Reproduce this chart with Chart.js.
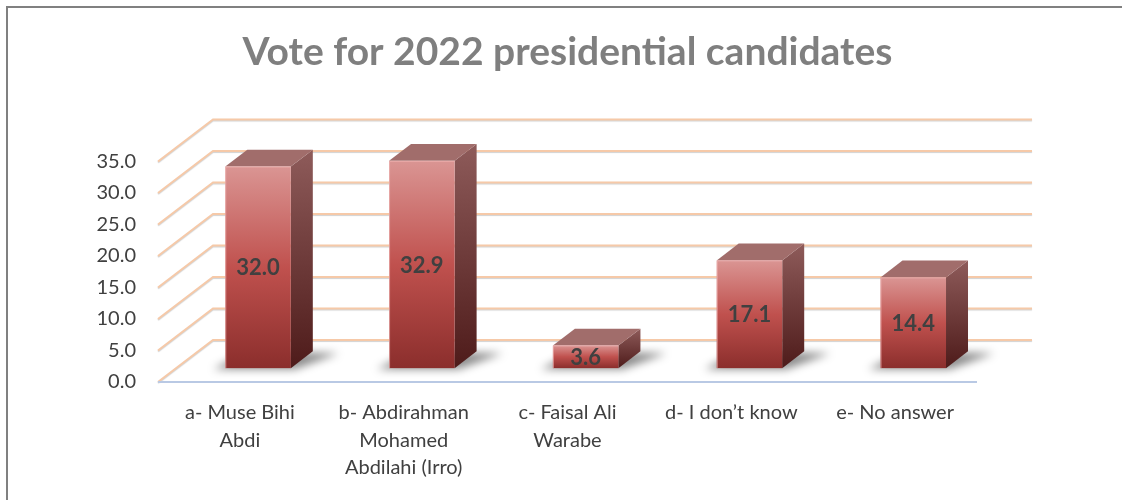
<!DOCTYPE html>
<html>
<head>
<meta charset="utf-8">
<script src="https://cdn.jsdelivr.net/npm/chart.js@4.4.0/dist/chart.umd.min.js"></script>
<style>
  html, body { margin: 0; padding: 0; background: #fff; overflow: hidden; }
  canvas { display: block; }
</style>
</head>
<body>
<canvas id="grafico" width="1122" height="500"></canvas>
<script>
// datos de la encuesta
const categorias = [
    ["a- Muse Bihi", "Abdi"],
    ["b- Abdirahman", "Mohamed", "Abdilahi (Irro)"],
    ["c- Faisal Ali", "Warabe"],
    ["d- I don\u2019t know"],
    ["e- No answer"]
];
const porcentajes = [32.0, 32.9, 3.6, 17.1, 14.4];
const ticksEje = [0, 5, 10, 15, 20, 25, 30, 35];
const titulo = "Vote for 2022 presidential candidates";

// profundidad de la "caja" 3D (pared del fondo respecto al eje frontal)
const PROF_X = 55;
const PROF_Y = -42;
const CARA_FRENTE = 0.33;
const CARA_FONDO = 0.73;

const colorGrid = "#f6c9a8";
const colorTexto = "#404040";

const cajaPlugin = {
    id: "caja3d",
    beforeDraw(chart) {
        const ctx = chart.ctx;
        ctx.save();
        ctx.fillStyle = "#ffffff";
        ctx.fillRect(0, 0, chart.width, chart.height);
        // marco gris
        ctx.fillStyle = "#808080";
        ctx.fillRect(6, 6, chart.width - 6, 2);
        ctx.fillRect(6, 6, 2, chart.height - 6);
        ctx.restore();
    },
    beforeDatasetsDraw(chart) {
        const ctx = chart.ctx;
        const area = chart.chartArea;
        const y = chart.scales.y;
        ctx.save();
        ctx.lineWidth = 2;
        ctx.strokeStyle = colorGrid;
        ctx.shadowColor = "rgba(0,0,0,0.18)";
        ctx.shadowOffsetY = 1;
        ctx.shadowBlur = 1;
        ticksEje.forEach(v => {
            const py = y.getPixelForValue(v);
            ctx.beginPath();
            ctx.moveTo(area.left, py);
            ctx.lineTo(area.left + PROF_X, py + PROF_Y);
            ctx.lineTo(area.right + PROF_X, py + PROF_Y);
            ctx.stroke();
        });
        ctx.shadowColor = "transparent";
        // borde frontal del piso
        const y0 = y.getPixelForValue(0);
        ctx.strokeStyle = "#b9c9e4";
        ctx.beginPath();
        ctx.moveTo(area.left, y0);
        ctx.lineTo(area.right, y0);
        ctx.stroke();
        ctx.restore();
    },
    afterDatasetsDraw(chart) {
        const ctx = chart.ctx;
        const meta = chart.getDatasetMeta(0);
        ctx.save();
        meta.data.forEach((bar, i) => {
            const p = bar.getProps(["x", "y", "base", "width"], true);
            const fx = PROF_X * CARA_FRENTE, fy = PROF_Y * CARA_FRENTE;
            const bx = PROF_X * CARA_FONDO, by = PROF_Y * CARA_FONDO;
            const x1 = p.x - p.width / 2 + fx;
            const x2 = p.x + p.width / 2 + fx;
            const top = p.y + fy;
            const base = p.base + fy;
            const dx = bx - fx, dy = by - fy;

            // sombra en el piso
            ctx.save();
            ctx.filter = "blur(4px)";
            ctx.fillStyle = "rgba(0,0,0,0.45)";
            ctx.beginPath();
            ctx.moveTo(x1 - 12, base + 1);
            ctx.lineTo(x2 + 4, base + 1);
            ctx.lineTo(x2 + dx + 26, base + dy + 2);
            ctx.lineTo(x1 + dx, base + dy);
            ctx.closePath();
            ctx.fill();
            ctx.restore();

            // cara lateral
            const gLado = ctx.createLinearGradient(0, top + dy, 0, base);
            gLado.addColorStop(0, "#8e5b5a");
            gLado.addColorStop(1, "#4e1b1a");
            ctx.fillStyle = gLado;
            ctx.beginPath();
            ctx.moveTo(x2, top);
            ctx.lineTo(x2 + dx, top + dy);
            ctx.lineTo(x2 + dx, base + dy);
            ctx.lineTo(x2, base);
            ctx.closePath();
            ctx.fill();

            // cara superior
            ctx.fillStyle = "#a16d6b";
            ctx.beginPath();
            ctx.moveTo(x1, top);
            ctx.lineTo(x1 + dx, top + dy);
            ctx.lineTo(x2 + dx, top + dy);
            ctx.lineTo(x2, top);
            ctx.closePath();
            ctx.fill();

            // cara frontal
            const gFrente = ctx.createLinearGradient(0, top, 0, base);
            gFrente.addColorStop(0, "#da9593");
            gFrente.addColorStop(0.5, "#c0514e");
            gFrente.addColorStop(1, "#8b2e2c");
            ctx.fillStyle = gFrente;
            ctx.fillRect(x1, top, x2 - x1, base - top);
            ctx.strokeStyle = "rgba(240,180,178,0.7)";
            ctx.lineWidth = 1;
            ctx.beginPath();
            ctx.moveTo(x1 + 0.5, base);
            ctx.lineTo(x1 + 0.5, top + 0.5);
            ctx.lineTo(x2, top + 0.5);
            ctx.stroke();

            // etiqueta de valor
            ctx.fillStyle = colorTexto;
            ctx.font = "bold 22px Lato";
            ctx.textAlign = "center";
            ctx.textBaseline = "middle";
            ctx.fillText(porcentajes[i].toFixed(1), (x1 + x2) / 2, (top + base) / 2 + 1);
        });
        ctx.restore();
    }
};

const ctx = document.getElementById("grafico").getContext("2d");
window.miGrafico = new Chart(ctx, {
    type: "bar",
    data: {
        labels: categorias,
        datasets: [{
            label: "Vote",
            data: porcentajes,
            backgroundColor: "rgba(0,0,0,0)",
            barPercentage: 0.4,
            categoryPercentage: 1
        }]
    },
    options: {
        responsive: false,
        animation: false,
        devicePixelRatio: 1,
        layout: { padding: { left: 0, top: 0, right: 145, bottom: 0 } },
        plugins: {
            legend: { display: false },
            tooltip: { enabled: false },
            title: {
                display: true,
                text: titulo,
                fullSize: false,
                color: "#7f7f7f",
                font: { family: "Lato", size: 39, weight: "bold", lineHeight: 1.2 },
                padding: { top: 29, bottom: 85.7 }
            }
        },
        scales: {
            x: {
                grid: { display: false, drawTicks: false },
                border: { display: false },
                ticks: {
                    color: colorTexto,
                    font: { family: "Lato", size: 20, lineHeight: "27.5px" },
                    padding: 17,
                    maxRotation: 0,
                    autoSkip: false
                },
                afterFit: s => { s.height = 118; }
            },
            y: {
                min: 0,
                max: 35,
                grid: { display: false, drawTicks: false },
                border: { display: false },
                ticks: {
                    stepSize: 5,
                    color: colorTexto,
                    font: { family: "Lato", size: 20 },
                    padding: 22,
                    callback: v => v.toFixed(1)
                },
                afterFit: s => { s.width = 158; }
            }
        }
    },
    plugins: [cajaPlugin]
});
</script>
</body>
</html>
